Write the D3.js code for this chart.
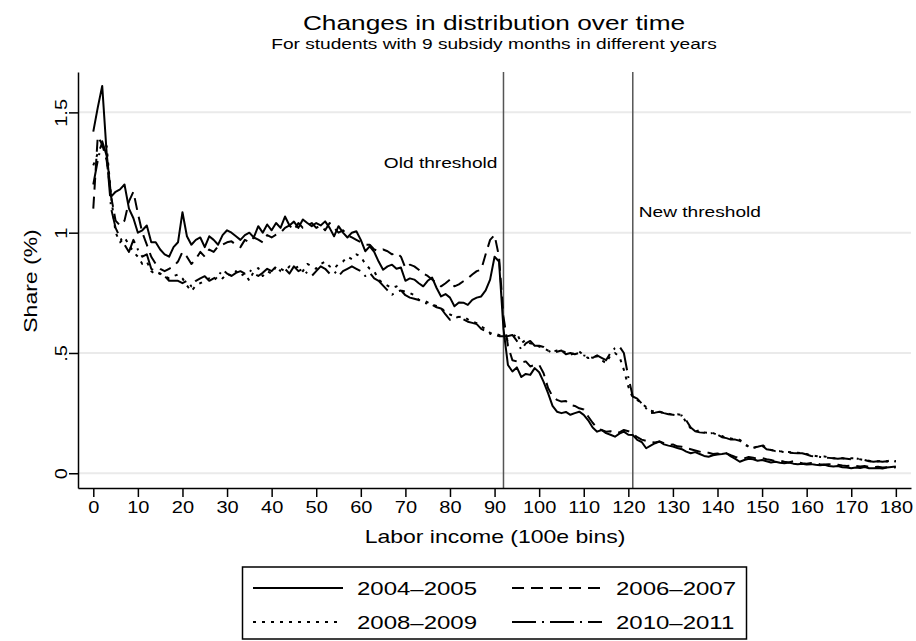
<!DOCTYPE html>
<html>
<head>
<meta charset="utf-8">
<script src="https://cdn.jsdelivr.net/npm/d3@7"></script>
<style>
  html, body { margin: 0; padding: 0; background: #fff; }
  svg { display: block; font-family: "Liberation Sans", Arial, Helvetica, sans-serif; }
</style>
</head>
<body>
<svg id="chart" width="916" height="641"></svg>
<script>
// Income bins (100e each), 0..180
const bins = d3.range(0, 181);

// Share (%) of students per bin, by period
const share2004_2005 = [
  1.42,1.52,1.61,1.33,1.15,1.17,1.18,1.20,1.10,1.06,
  1.00,1.01,1.03,0.96,0.96,0.93,0.91,0.90,0.94,0.96,
  1.085,0.985,0.95,0.97,0.98,0.94,0.985,0.97,0.95,0.99,
  1.01,1.00,0.985,0.97,0.99,1.00,0.98,1.027,1.00,1.034,
  1.01,1.04,1.02,1.067,1.03,1.046,1.02,1.055,1.04,1.027,
  1.04,1.03,1.047,1.02,0.985,1.027,1.00,0.98,1.00,1.006,
  0.97,0.923,0.943,0.92,0.88,0.846,0.86,0.867,0.85,0.855,
  0.80,0.81,0.805,0.79,0.777,0.80,0.813,0.77,0.735,0.745,
  0.73,0.694,0.71,0.709,0.70,0.721,0.73,0.735,0.76,0.805,
  0.90,0.88,0.60,0.45,0.423,0.44,0.40,0.413,0.409,0.437,
  0.42,0.38,0.333,0.28,0.256,0.25,0.255,0.243,0.25,0.256,
  0.243,0.22,0.19,0.173,0.18,0.167,0.16,0.152,0.165,0.173,
  0.16,0.159,0.139,0.13,0.104,0.115,0.125,0.132,0.12,0.115,
  0.111,0.105,0.10,0.09,0.083,0.088,0.08,0.072,0.069,0.075,
  0.078,0.08,0.083,0.07,0.06,0.048,0.055,0.06,0.058,0.052,
  0.055,0.05,0.045,0.048,0.044,0.042,0.045,0.04,0.038,0.04,
  0.036,0.038,0.035,0.033,0.035,0.03,0.028,0.03,0.025,0.024,
  0.021,0.024,0.022,0.026,0.021,0.021,0.022,0.02,0.024,0.026,
  0.028
];

const share2006_2007 = [
  1.10,1.40,1.367,1.30,1.15,1.05,1.03,1.05,1.13,1.17,
  1.08,1.00,0.95,0.90,0.87,0.85,0.84,0.85,0.86,0.88,
  0.92,0.90,0.87,0.89,0.92,0.90,0.93,0.92,0.943,0.95,
  0.96,0.964,0.95,0.94,0.97,0.96,0.98,0.971,0.96,0.99,
  0.98,0.992,1.00,1.02,1.03,1.01,1.04,1.02,1.03,1.04,
  1.02,1.03,1.01,1.04,1.02,1.00,1.01,0.99,0.98,0.97,
  0.96,0.95,0.95,0.93,0.923,0.93,0.923,0.91,0.916,0.90,
  0.853,0.867,0.86,0.846,0.83,0.82,0.805,0.79,0.777,0.79,
  0.805,0.777,0.785,0.798,0.81,0.826,0.84,0.846,0.91,0.97,
  0.99,0.90,0.65,0.53,0.47,0.465,0.46,0.465,0.444,0.45,
  0.451,0.416,0.354,0.32,0.305,0.298,0.30,0.284,0.28,0.27,
  0.265,0.236,0.21,0.187,0.18,0.173,0.175,0.167,0.17,0.18,
  0.175,0.165,0.15,0.14,0.135,0.13,0.128,0.132,0.125,0.118,
  0.12,0.112,0.11,0.105,0.10,0.095,0.09,0.085,0.085,0.08,
  0.082,0.078,0.083,0.075,0.068,0.065,0.062,0.068,0.065,0.06,
  0.063,0.058,0.055,0.05,0.052,0.048,0.045,0.05,0.046,0.042,
  0.04,0.043,0.041,0.038,0.036,0.038,0.034,0.035,0.032,0.03,
  0.033,0.03,0.028,0.03,0.027,0.025,0.027,0.024,0.025,0.023,
  0.025
];

const share2008_2009 = [
  1.28,1.33,1.37,1.36,1.15,1.00,0.96,0.98,0.95,0.92,
  0.90,0.87,0.88,0.84,0.826,0.83,0.82,0.81,0.82,0.826,
  0.81,0.78,0.757,0.78,0.79,0.80,0.81,0.80,0.82,0.81,
  0.83,0.82,0.84,0.82,0.83,0.80,0.84,0.853,0.82,0.84,
  0.83,0.86,0.85,0.84,0.86,0.85,0.86,0.84,0.87,0.86,
  0.85,0.87,0.88,0.86,0.85,0.87,0.88,0.90,0.89,0.91,
  0.90,0.87,0.85,0.84,0.805,0.79,0.78,0.77,0.777,0.76,
  0.755,0.749,0.74,0.721,0.72,0.71,0.70,0.695,0.687,0.67,
  0.66,0.652,0.65,0.652,0.64,0.63,0.624,0.61,0.60,0.583,
  0.58,0.575,0.565,0.555,0.56,0.583,0.54,0.555,0.54,0.535,
  0.527,0.52,0.51,0.506,0.51,0.513,0.50,0.492,0.50,0.506,
  0.49,0.479,0.485,0.486,0.47,0.458,0.49,0.50,0.485,0.43,
  0.36,0.313,0.305,0.29,0.275,0.26,0.255,0.256,0.25,0.248,
  0.243,0.245,0.243,0.21,0.187,0.173,0.18,0.17,0.168,0.167,
  0.16,0.155,0.146,0.145,0.14,0.139,0.125,0.11,0.104,0.112,
  0.118,0.105,0.097,0.095,0.092,0.09,0.088,0.086,0.085,0.083,
  0.08,0.075,0.072,0.069,0.07,0.066,0.062,0.064,0.063,0.06,
  0.062,0.062,0.058,0.055,0.052,0.048,0.05,0.052,0.05,0.055,
  0.05
];

const share2010_2011 = [
  1.20,1.30,1.38,1.32,1.10,1.02,0.98,0.95,0.92,0.97,
  0.93,0.90,0.91,0.85,0.84,0.83,0.82,0.80,0.80,0.80,
  0.79,0.80,0.777,0.80,0.81,0.819,0.80,0.81,0.819,0.846,
  0.83,0.82,0.833,0.84,0.83,0.846,0.83,0.82,0.833,0.85,
  0.84,0.86,0.84,0.85,0.83,0.86,0.84,0.85,0.83,0.82,
  0.84,0.86,0.85,0.83,0.84,0.82,0.84,0.85,0.86,0.85,
  0.84,0.82,0.833,0.81,0.80,0.78,0.76,0.742,0.755,0.76,
  0.74,0.73,0.725,0.72,0.71,0.705,0.70,0.69,0.685,0.66,
  0.638,0.645,0.65,0.64,0.63,0.625,0.62,0.60,0.59,0.58,
  0.575,0.57,0.569,0.57,0.575,0.55,0.513,0.54,0.55,0.53,
  0.53,0.525,0.51,0.50,0.505,0.51,0.495,0.50,0.495,0.50,
  0.49,0.485,0.48,0.49,0.48,0.47,0.50,0.52,0.527,0.50,
  0.40,0.319,0.31,0.29,0.27,0.25,0.252,0.256,0.25,0.245,
  0.243,0.24,0.24,0.22,0.19,0.175,0.17,0.168,0.165,0.167,
  0.16,0.15,0.146,0.14,0.14,0.135,0.12,0.11,0.106,0.11,
  0.115,0.10,0.097,0.092,0.09,0.088,0.086,0.084,0.083,0.083,
  0.078,0.072,0.07,0.068,0.066,0.064,0.062,0.06,0.062,0.06,
  0.058,0.062,0.058,0.055,0.05,0.048,0.05,0.048,0.05,0.048,
  0.05
];

const seriesNames = ["2004\u20132005", "2006\u20132007", "2008\u20132009", "2010\u20132011"];
const seriesValues = [share2004_2005, share2006_2007, share2008_2009, share2010_2011];
const seriesDash = [null, "12,7", "3,6", "24,6,2,6"];

const xTicks = d3.range(0, 181, 10);
const yTicks = [0, 0.5, 1, 1.5];
const yTickLabels = ["0", ".5", "1", "1.5"];
const thresholds = [
  { x: 92, label: "Old threshold" },
  { x: 121, label: "New threshold" }
];

const svg = d3.select("#chart");
const FONT = "Liberation Sans, Arial, sans-serif";
const WIDE = "scale(1.25,1)"; // glyphs are drawn wide

// Plot region
const plot = { left: 78, right: 911, top: 72, bottom: 488 };
const x = d3.scaleLinear().domain([-3.43, 183.4]).range([plot.left, plot.right]);
const y = d3.scaleLinear().domain([-0.0612, 1.6678]).range([plot.bottom, plot.top]);

// Text placed at (px, py) with wide glyphs
function wideText(px, py, size, anchor, str, rotate) {
  return svg.append("text")
    .attr("transform", `translate(${px},${py})${rotate ? " rotate(-90)" : ""} ${WIDE}`)
    .attr("text-anchor", anchor)
    .attr("font-size", size)
    .attr("font-family", FONT)
    .attr("fill", "#000")
    .text(str);
}

// Horizontal grid lines
svg.append("g")
  .selectAll("line")
  .data(yTicks)
  .join("line")
  .attr("x1", plot.left).attr("x2", plot.right)
  .attr("y1", d => y(d)).attr("y2", d => y(d))
  .attr("stroke", "#eaeaea").attr("stroke-width", 2);

// Threshold markers
svg.append("g")
  .selectAll("line")
  .data(thresholds)
  .join("line")
  .attr("x1", d => x(d.x)).attr("x2", d => x(d.x))
  .attr("y1", plot.top).attr("y2", plot.bottom)
  .attr("stroke", "#555").attr("stroke-width", 1.5);

wideText(x(thresholds[0].x) - 6, 168, 15.3, "end", thresholds[0].label);
wideText(x(thresholds[1].x) + 6, 217, 15.3, "start", thresholds[1].label);

// Series lines
const line = d3.line().x((d, i) => x(bins[i])).y(d => y(d));
svg.append("g")
  .selectAll("path")
  .data(seriesValues)
  .join("path")
  .attr("d", d => line(d))
  .attr("fill", "none")
  .attr("stroke", "#000")
  .attr("stroke-width", 2)
  .attr("stroke-linejoin", "round")
  .attr("stroke-dasharray", (d, i) => seriesDash[i]);

// X axis
const xAxis = svg.append("g")
  .attr("transform", `translate(0,${plot.bottom})`)
  .call(d3.axisBottom(x).tickValues(xTicks).tickSize(9).tickPadding(5).tickSizeOuter(0));
xAxis.select(".domain").attr("stroke", "#000").attr("stroke-width", 1.5);
xAxis.selectAll(".tick line").attr("stroke", "#000").attr("stroke-width", 1.5);
xAxis.selectAll(".tick text")
  .attr("font-size", 16).attr("font-family", FONT).attr("fill", "#000")
  .attr("transform", WIDE);

// Y axis
const yAxis = svg.append("g")
  .attr("transform", `translate(${plot.left},0)`)
  .call(d3.axisLeft(y).tickValues(yTicks).tickFormat((d, i) => yTickLabels[i]).tickSize(9).tickSizeOuter(0));
yAxis.select(".domain").attr("stroke", "#000").attr("stroke-width", 1.5);
yAxis.selectAll(".tick line").attr("stroke", "#000").attr("stroke-width", 1.5);
yAxis.selectAll(".tick text")
  .attr("font-size", 16).attr("font-family", FONT).attr("fill", "#000")
  .attr("x", null).attr("dy", null)
  .attr("text-anchor", "middle")
  .attr("transform", `translate(-11,0) rotate(-90) ${WIDE}`);

// Titles
wideText(494, 30, 21, "middle", "Changes in distribution over time");
wideText(494, 49, 15.3, "middle", "For students with 9 subsidy months in different years");
wideText(495, 543, 18.4, "middle", "Labor income (100e bins)");
wideText(37, 281, 18.4, "middle", "Share (%)", true);

// Legend
const legend = svg.append("g");
legend.append("rect").attr("x", 242.5).attr("y", 567).attr("width", 504).attr("height", 72)
  .attr("fill", "#fff").attr("stroke", "#000").attr("stroke-width", 1.5);
const legendPos = [
  { lx: 253, ty: 588 }, { lx: 512, ty: 588 },
  { lx: 253, ty: 622 }, { lx: 512, ty: 622 }
];
seriesNames.forEach((name, i) => {
  const p = legendPos[i];
  legend.append("line").attr("x1", p.lx).attr("x2", p.lx + 90)
    .attr("y1", p.ty).attr("y2", p.ty)
    .attr("stroke", "#000").attr("stroke-width", 2)
    .attr("stroke-dasharray", seriesDash[i]);
  wideText(p.lx + 104, p.ty + 7, 19.2, "start", name);
});
</script>
</body>
</html>
